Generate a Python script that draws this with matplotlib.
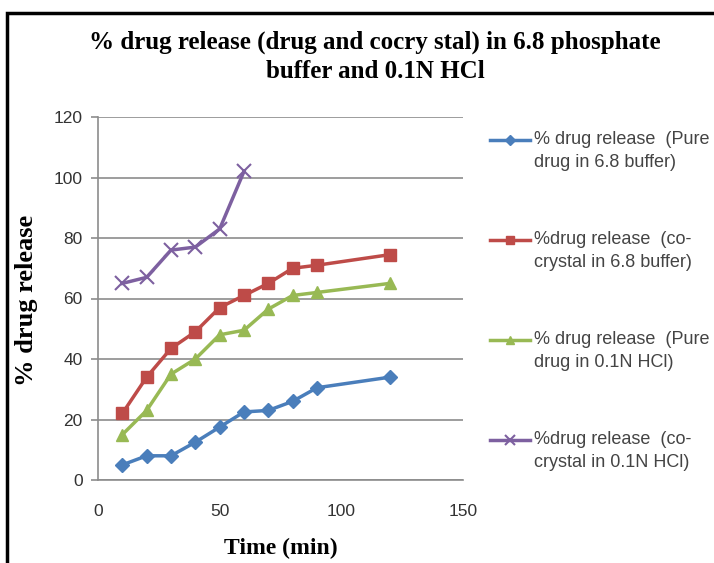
import matplotlib.pyplot as plt
from matplotlib.lines import Line2D
from matplotlib.patches import Rectangle

time_pure_buffer = [10, 20, 30, 40, 50, 60, 70, 80, 90, 120]
pure_buffer = [5, 8, 8, 12.5, 17.5, 22.5, 23, 26, 30.5, 34]

time_cocrystal_buffer = [10, 20, 30, 40, 50, 60, 70, 80, 90, 120]
cocrystal_buffer = [22, 34, 43.5, 49, 57, 61, 65, 70, 71, 74.5]

time_pure_hcl = [10, 20, 30, 40, 50, 60, 70, 80, 90, 120]
pure_hcl = [15, 23, 35, 40, 48, 49.5, 56.5, 61, 62, 65]

time_cocrystal_hcl = [10, 20, 30, 40, 50, 60]
cocrystal_hcl = [65, 67, 76, 77, 83, 102]

labels = ["% drug release  (Pure\ndrug in 6.8 buffer)",
          "%drug release  (co-\ncrystal in 6.8 buffer)",
          "% drug release  (Pure\ndrug in 0.1N HCl)",
          "%drug release  (co-\ncrystal in 0.1N HCl)"]

colors = ["#4a7ebb", "#be4b48", "#98b954", "#7d60a0"]
markers = ["D", "s", "^", "x"]
msizes = [7, 9, 9, 10]

W, H = 714, 563
fig = plt.figure(figsize=(W / 100, H / 100), dpi=100)
fig.patch.set_facecolor("white")

# outer chart frame
fig.add_artist(Rectangle((7 / W, -0.05), 1.0, 1 - 13 / H + 0.05, transform=fig.transFigure,
                         fill=False, edgecolor="black", linewidth=2.5))

ax = fig.add_axes([98 / W, 1 - 480 / H, (463 - 98) / W, (480 - 117) / H])

series = [(time_pure_buffer, pure_buffer), (time_cocrystal_buffer, cocrystal_buffer),
          (time_pure_hcl, pure_hcl), (time_cocrystal_hcl, cocrystal_hcl)]
for (t, v), c, m, ms in zip(series, colors, markers, msizes):
    ax.plot(t, v, color=c, marker=m, markersize=ms, linewidth=2.5,
            markeredgewidth=1.5 if m == "x" else 1, zorder=3)

ax.set_xlim(0, 150)
ax.set_ylim(0, 120)
ax.set_xticks([0, 50, 100, 150])
ax.set_yticks(range(0, 121, 20))
ax.grid(axis="y", color="#8c8c8c", linewidth=1.2)
ax.set_axisbelow(True)
for s in ["top", "right"]:
    ax.spines[s].set_visible(False)
for s in ["left", "bottom"]:
    ax.spines[s].set_color("#8c8c8c")
    ax.spines[s].set_linewidth(1.2)
ax.tick_params(axis="both", colors="#8c8c8c", labelcolor="#333333", labelsize=12.5,
               length=5, width=1.2)
ax.tick_params(axis="y", pad=6)
ax.tick_params(axis="x", length=0, pad=17)
for lbl in ax.get_xticklabels() + ax.get_yticklabels():
    lbl.set_fontfamily("Liberation Sans")

fig.text(375 / W, 1 - 57 / H, "% drug release (drug and cocry stal) in 6.8 phosphate\nbuffer and 0.1N HCl",
         ha="center", va="center", fontsize=18, fontweight="bold", family="Liberation Serif",
         linespacing=1.35)
fig.text(27 / W, 1 - 300 / H, "% drug release", rotation=90, ha="center", va="center",
         fontsize=19, fontweight="bold", family="Liberation Serif")
fig.text(281 / W, 1 - 548 / H, "Time (min)", ha="center", va="center",
         fontsize=17, fontweight="bold", family="Liberation Serif")

# legend entries drawn on the figure
for i, (lab, c, m, ms) in enumerate(zip(labels, colors, markers, msizes)):
    y = 1 - (140 + i * 100) / H
    fig.add_artist(Line2D([490 / W, 530 / W], [y, y], transform=fig.transFigure,
                          color=c, linewidth=2.5))
    fig.add_artist(Line2D([510 / W], [y], transform=fig.transFigure, color=c,
                          marker=m, markersize=ms * 0.7, markeredgewidth=1.5 if m == "x" else 1))
    fig.text(534 / W, y + 9 / H, lab, ha="left", va="top", fontsize=13,
             family="Liberation Sans", color="#444444", linespacing=1.45)

fig.savefig("out.png", dpi=100)
